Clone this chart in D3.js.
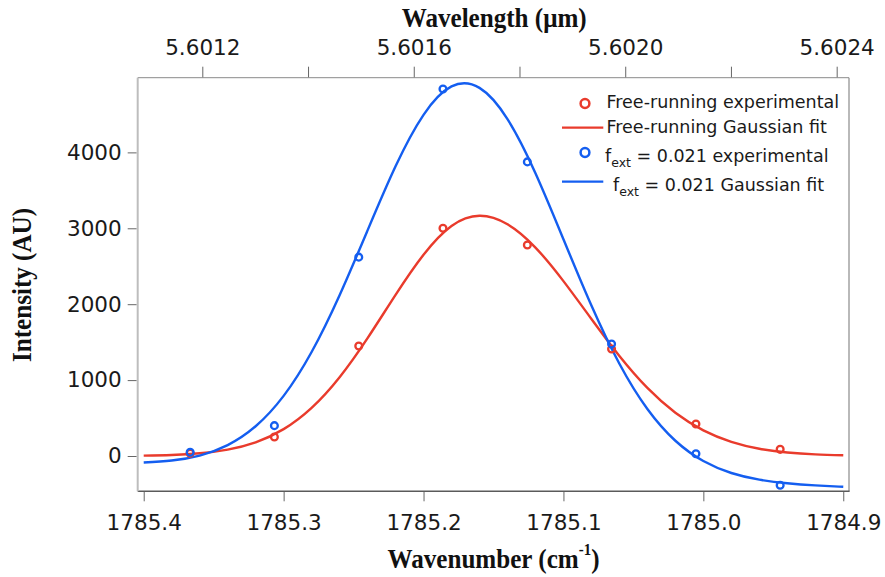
<!DOCTYPE html>
<html>
<head>
<meta charset="utf-8">
<script src="https://cdn.jsdelivr.net/npm/d3@7"></script>
<style>
  html, body { margin: 0; padding: 0; background: #fff; }
  svg { display: block; }
</style>
</head>
<body>
<svg id="chart" width="885" height="577"></svg>
<script>
// ---------------- data ----------------
const wavenumberTicks = [1785.4, 1785.3, 1785.2, 1785.1, 1785.0, 1784.9];
const wavelengthTicks = [5.6012, 5.6016, 5.6020, 5.6024];
const wavelengthMinorTicks = [5.6014, 5.6018, 5.6022];
const intensityTicks = [0, 1000, 2000, 3000, 4000];

// experimental points (wavenumber, cm-1)
const expWavenumber = [1785.3668, 1785.3066, 1785.2463, 1785.1861, 1785.1258, 1785.0656, 1785.0053, 1784.9451];
const freeRunningExp = [35, 250, 1450, 3000, 2780, 1410, 421, 88];
const fextExp = [49, 400, 2620, 4835, 3875, 1475, 30, -386];

// Gaussian fit curves
const fitWavenumber = [1785.40, 1785.38, 1785.36, 1785.34, 1785.32, 1785.30, 1785.28, 1785.26, 1785.24,
  1785.22, 1785.20, 1785.18, 1785.16, 1785.14, 1785.12, 1785.10, 1785.08, 1785.06, 1785.04,
  1785.02, 1785.00, 1784.98, 1784.96, 1784.94, 1784.92, 1784.90];
const freeRunningFit = [5, 14, 36, 84, 180, 354, 634, 1038, 1553, 2123, 2652, 3031, 3165, 3053,
  2746, 2304, 1805, 1318, 897, 570, 338, 187, 96, 46, 21, 9];
const fextFit = [-85, -60, 6, 144, 392, 792, 1370, 2118, 2973, 3817, 4495, 4869, 4850, 4439,
  3726, 2856, 1982, 1215, 619, 201, -66, -224, -312, -359, -387, -406];

const legendLabels = ["Free-running experimental", "Free-running Gaussian fit",
  " = 0.021 experimental", " = 0.021 Gaussian fit"];

// ---------------- layout ----------------
const RED = "#e93b2c", BLUE = "#145ef0";
const L = 137.7, R = 849, T = 77.7, B = 491.3;
const tickFont = "'DejaVu Sans', sans-serif";
const titleFont = "'Liberation Serif', 'Times New Roman', serif";

const svg = d3.select("#chart");
svg.append("rect").attr("width", 885).attr("height", 577).attr("fill", "#fff");

const x = d3.scaleLinear().domain([1785.4043, 1784.8959]).range([L, R]);
const xTop = d3.scaleLinear().domain([5.6010778, 5.6024233]).range([L, R]);
const y = d3.scaleLinear().domain([-465, 4984]).range([B, T]);

// ---------------- axes ----------------
function styleAxis(g, size) {
  g.select(".domain").remove();
  g.selectAll(".tick line").attr("stroke", "#666").attr("stroke-width", 1);
  g.selectAll(".tick text").attr("fill", "#1a1a1a")
    .style("font-family", tickFont).style("font-size", size + "px");
}

const yAxis = svg.append("g").attr("transform", `translate(${L},0)`)
  .call(d3.axisLeft(y).tickValues(intensityTicks).tickFormat(d3.format("d")).tickSize(9).tickPadding(7));
styleAxis(yAxis, 21.5);
yAxis.selectAll(".tick line").attr("x2", -10).attr("x1", -1);

const xAxis = svg.append("g").attr("transform", `translate(0,${B})`)
  .call(d3.axisBottom(x).tickValues(wavenumberTicks).tickFormat(d3.format(".1f")).tickSize(10).tickPadding(13.5));
styleAxis(xAxis, 21.5);

const topAxis = svg.append("g").attr("transform", `translate(0,${T})`)
  .call(d3.axisTop(xTop).tickValues(wavelengthTicks).tickFormat(d3.format(".4f")).tickSize(11).tickPadding(11.5));
styleAxis(topAxis, 21.5);

const topMinor = svg.append("g").attr("transform", `translate(0,${T})`)
  .call(d3.axisTop(xTop).tickValues(wavelengthMinorTicks).tickFormat("").tickSize(11));
styleAxis(topMinor, 21.5);

// frame
svg.append("line").attr("x1", L).attr("x2", R).attr("y1", T).attr("y2", T).attr("stroke", "#8a8a8a").attr("stroke-width", 1);
svg.append("line").attr("x1", R).attr("x2", R).attr("y1", T).attr("y2", B).attr("stroke", "#8a8a8a").attr("stroke-width", 1.2);
svg.append("line").attr("x1", L).attr("x2", R + 0.6).attr("y1", B).attr("y2", B).attr("stroke", "#5a5a5a").attr("stroke-width", 1.4);
svg.append("line").attr("x1", L).attr("x2", L).attr("y1", T).attr("y2", B).attr("stroke", "#bdbdbd").attr("stroke-width", 2);

// ---------------- titles ----------------
function title(xc, yb, rotate) {
  const g = svg.append("g").attr("transform",
    `translate(${xc},${yb})` + (rotate ? " rotate(-90)" : "") + " scale(0.93,1)");
  return g.append("text").attr("text-anchor", "middle")
    .style("font-family", titleFont).style("font-weight", "bold").style("font-size", "27px").attr("fill", "#111");
}
title(494.2, 26.7, false).text("Wavelength (μm)");
const xt = title(493.5, 568.3, false);
xt.append("tspan").text("Wavenumber (cm");
xt.append("tspan").attr("dy", -13).style("font-size", "16px").text("-1");
xt.append("tspan").attr("dy", 13).text(")");
title(31, 285, true).text("Intensity (AU)");

// ---------------- series ----------------
const line = d3.line().x(d => x(d[0])).y(d => y(d[1])).curve(d3.curveNatural);
const redFit = fitWavenumber.map((w, i) => [w, freeRunningFit[i]]);
const blueFit = fitWavenumber.map((w, i) => [w, fextFit[i]]);

svg.append("path").datum(redFit).attr("d", line).attr("fill", "none").attr("stroke", RED).attr("stroke-width", 2.4);
svg.append("path").datum(blueFit).attr("d", line).attr("fill", "none").attr("stroke", BLUE).attr("stroke-width", 2.4);

svg.append("g").selectAll("circle").data(expWavenumber.map((w, i) => [w, freeRunningExp[i]]))
  .join("circle").attr("cx", d => x(d[0])).attr("cy", d => y(d[1])).attr("r", 3.4)
  .attr("fill", "none").attr("stroke", RED).attr("stroke-width", 2.3);
svg.append("g").selectAll("circle").data(expWavenumber.map((w, i) => [w, fextExp[i]]))
  .join("circle").attr("cx", d => x(d[0])).attr("cy", d => y(d[1])).attr("r", 3.4)
  .attr("fill", "none").attr("stroke", BLUE).attr("stroke-width", 2.3);

// ---------------- legend ----------------
const lg = svg.append("g").style("font-family", tickFont).style("font-size", "17.5px").attr("fill", "#1a1a1a");
lg.append("circle").attr("cx", 585).attr("cy", 103.5).attr("r", 4.4).attr("fill", "none").attr("stroke", RED).attr("stroke-width", 2.5);
lg.append("text").attr("x", 606.5).attr("y", 108.3).text(legendLabels[0]);
lg.append("line").attr("x1", 562).attr("x2", 603.3).attr("y1", 127.7).attr("y2", 127.7).attr("stroke", RED).attr("stroke-width", 2.2);
lg.append("text").attr("x", 606.5).attr("y", 133.3).text(legendLabels[1]);
lg.append("circle").attr("cx", 585).attr("cy", 152.5).attr("r", 4.4).attr("fill", "none").attr("stroke", BLUE).attr("stroke-width", 2.5);
const t3 = lg.append("text").attr("x", 605).attr("y", 161.5);
t3.append("tspan").text("f");
t3.append("tspan").attr("dy", 5).style("font-size", "12.5px").text("ext");
t3.append("tspan").attr("dy", -5).text(legendLabels[2]);
lg.append("line").attr("x1", 562).attr("x2", 603.3).attr("y1", 181.7).attr("y2", 181.7).attr("stroke", BLUE).attr("stroke-width", 2.2);
const t4 = lg.append("text").attr("x", 613).attr("y", 190.5);
t4.append("tspan").text("f");
t4.append("tspan").attr("dy", 5).style("font-size", "12.5px").text("ext");
t4.append("tspan").attr("dy", -5).text(legendLabels[3]);
</script>
</body>
</html>
